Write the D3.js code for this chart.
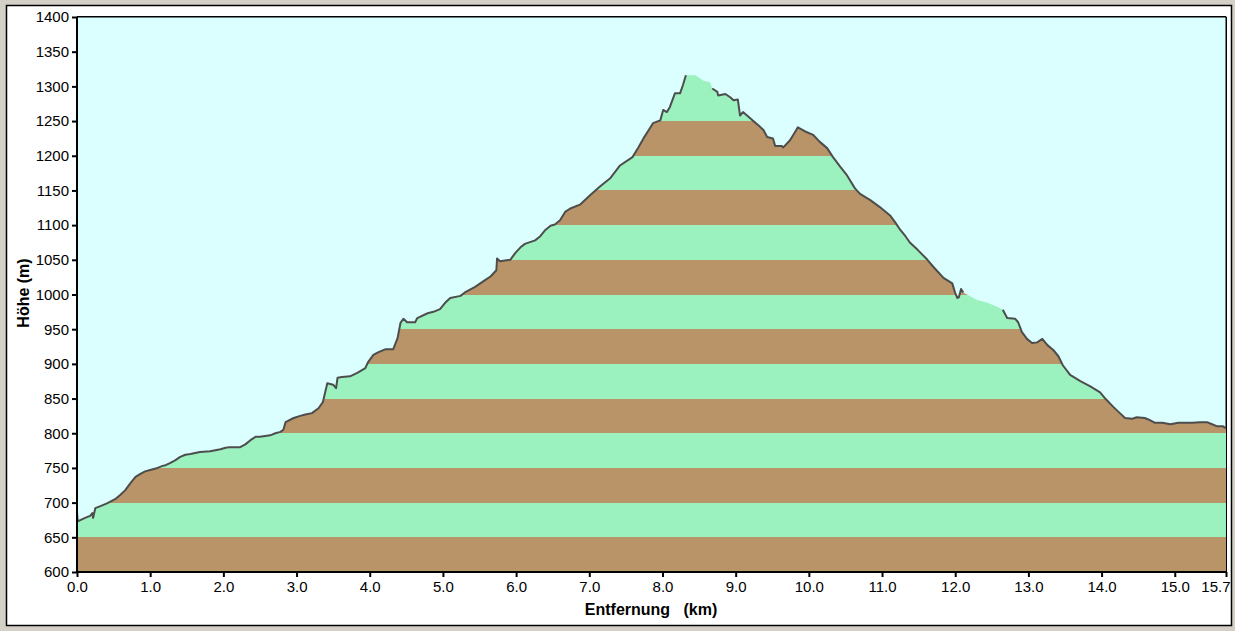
<!DOCTYPE html>
<html>
<head>
<meta charset="utf-8">
<script src="https://cdn.jsdelivr.net/npm/d3@7"></script>
<style>
  html, body { margin: 0; padding: 0; background: #d4d0c8; }
  svg { display: block; }
  text { font-family: "Liberation Sans", Arial, sans-serif; }
</style>
</head>
<body>
<svg id="chart" width="1235" height="631"></svg>
<script>
// ---- Data ----
const distanceKm = [
  0.00, 0.01, 0.11, 0.18, 0.21, 0.22, 0.25, 0.32, 0.41, 0.52, 0.59, 0.66, 0.73, 0.80, 0.86, 0.93,
  1.00, 1.10, 1.17, 1.21, 1.27, 1.34, 1.41, 1.48, 1.55, 1.68, 1.82, 1.96, 2.03, 2.09, 2.23, 2.30,
  2.37, 2.44, 2.50, 2.57, 2.64, 2.71, 2.78, 2.82, 2.85, 2.96, 3.05, 3.12, 3.21, 3.30, 3.36, 3.42,
  3.50, 3.54, 3.56, 3.62, 3.73, 3.83, 3.94, 3.98, 4.05, 4.12, 4.21, 4.32, 4.38, 4.42, 4.46, 4.51,
  4.62, 4.65, 4.79, 4.87, 4.96, 5.03, 5.10, 5.24, 5.30, 5.44, 5.58, 5.65, 5.73, 5.74, 5.78, 5.92,
  5.99, 6.06, 6.12, 6.26, 6.33, 6.40, 6.47, 6.53, 6.60, 6.67, 6.74, 6.88, 7.01, 7.15, 7.29, 7.42,
  7.59, 7.67, 7.74, 7.83, 7.87, 7.97, 8.01, 8.06, 8.10, 8.17, 8.24, 8.28, 8.32, 8.45, 8.56, 8.65,
  8.68, 8.75, 8.76, 8.86, 8.93, 8.97, 9.03, 9.06, 9.10, 9.23, 9.31, 9.38, 9.43, 9.51, 9.54, 9.63,
  9.65, 9.74, 9.81, 9.85, 9.95, 10.06, 10.15, 10.25, 10.33, 10.43, 10.52, 10.56, 10.63, 10.70, 10.84, 10.97,
  11.11, 11.18, 11.25, 11.32, 11.38, 11.49, 11.62, 11.70, 11.84, 11.96, 12.00, 12.03, 12.05, 12.08, 12.11, 12.18,
  12.30, 12.44, 12.58, 12.65, 12.71, 12.82, 12.86, 12.91, 12.98, 13.05, 13.12, 13.19, 13.26, 13.34, 13.41, 13.47,
  13.57, 13.71, 13.84, 13.98, 14.05, 14.16, 14.25, 14.32, 14.42, 14.48, 14.59, 14.66, 14.73, 14.83, 14.94, 15.05,
  15.24, 15.34, 15.44, 15.51, 15.58, 15.66, 15.70
];
const elevationM = [
  686, 673, 678, 681, 685, 678, 692, 695, 699, 705, 711, 718, 728, 737, 741, 745,
  747, 750, 753, 754, 757, 761, 766, 769, 770, 773, 774, 777, 779, 780, 780, 784,
  790, 795, 795, 796, 797, 800, 802, 805, 816, 822, 825, 827, 829, 836, 845, 872,
  870, 865, 880, 881, 882, 887, 894, 903, 913, 917, 921, 921, 937, 959, 965, 960,
  960, 966, 973, 975, 979, 988, 995, 998, 1003, 1011, 1021, 1026, 1035, 1052, 1048, 1050,
  1060, 1068, 1073, 1078, 1084, 1093, 1099, 1101, 1107, 1119, 1124, 1130, 1143, 1156, 1168, 1186,
  1198, 1212, 1225, 1240, 1247, 1251, 1266, 1263, 1270, 1290, 1290, 1302, 1316, 1316, 1308, 1306,
  1297, 1292, 1287, 1289, 1284, 1280, 1281, 1258, 1263, 1251, 1244, 1237, 1227, 1225, 1214, 1214,
  1212, 1222, 1234, 1241, 1235, 1230, 1220, 1211, 1198, 1184, 1172, 1165, 1153, 1145, 1136, 1126,
  1114, 1104, 1093, 1084, 1075, 1064, 1050, 1040, 1024, 1016, 1002, 995, 996, 1008, 1003, 999,
  992, 988, 982, 978, 966, 965, 960, 946, 936, 930, 931, 936, 927, 920, 911, 898,
  884, 875, 868, 859, 850, 838, 829, 822, 821, 823, 822, 819, 815, 815, 813, 815,
  815, 816, 816, 813, 810, 810, 807
];
// stretches where the profile outline is not drawn (km)
const lineGaps = [[8.33, 8.67], [12.12, 12.64]];
const xTicks = [0, 1, 2, 3, 4, 5, 6, 7, 8, 9, 10, 11, 12, 13, 14, 15, 15.7];
const yTicks = [600, 650, 700, 750, 800, 850, 900, 950, 1000, 1050, 1100, 1150, 1200, 1250, 1300, 1350, 1400];
// colour band boundaries (m); bands alternate brown / green from the bottom
const bandEdges = [600, 650, 700, 750, 800, 850, 900, 950, 1000, 1050, 1100, 1150, 1200, 1250, 1400];
const xTitle = "Entfernung\u00a0\u00a0\u00a0(km)";
const yTitle = "Höhe (m)";

// ---- Layout ----
const svg = d3.select("#chart");
const L = 77, R = 1226, T = 17, B = 572;
const x = d3.scaleLinear().domain([0, 15.7]).range([L, R]);
const y = d3.scaleLinear().domain([600, 1400]).range([B, T]);

const data = distanceKm.map((d, i) => ({ d, e: elevationM[i] }));

// panel
svg.append("rect").attr("x", 6.5).attr("y", 5.5).attr("width", 1225).attr("height", 620)
  .attr("fill", "#ffffff").attr("stroke", "#000").attr("stroke-width", 1.5);

// plot background
svg.append("rect").attr("x", L).attr("y", T).attr("width", R - L).attr("height", B - T)
  .attr("fill", "#dbffff").attr("stroke", "#000").attr("stroke-width", 1);

// clip path = area under profile
const area = d3.area().x(p => x(p.d)).y0(B).y1(p => y(p.e)).curve(d3.curveLinear);
svg.append("clipPath").attr("id", "profileClip").append("path").attr("d", area(data));

const bands = d3.pairs(bandEdges);
svg.append("g").attr("clip-path", "url(#profileClip)")
  .selectAll("rect").data(bands).join("rect")
  .attr("x", L).attr("width", R - L)
  .attr("y", b => y(b[1])).attr("height", b => y(b[0]) - y(b[1]))
  .attr("fill", (b, i) => i % 2 === 0 ? "#b89468" : "#9bf2bf")
  .attr("shape-rendering", "crispEdges");

// outline
const inGap = p => lineGaps.some(g => p.d > g[0] && p.d < g[1]);
const line = d3.line().x(p => x(p.d)).y(p => y(p.e)).defined(p => !inGap(p));
svg.append("path").attr("d", line(data)).attr("fill", "none")
  .attr("stroke", "#4d4d4d").attr("stroke-width", 2).attr("stroke-linejoin", "round");

// top & right border redraw
svg.append("line").attr("x1", L).attr("x2", R).attr("y1", T - 0.5).attr("y2", T - 0.5).attr("stroke", "#000");
svg.append("line").attr("x1", R + 0.5).attr("x2", R + 0.5).attr("y1", T).attr("y2", B).attr("stroke", "#000");

// axes
const yAxis = d3.axisLeft(y).tickValues(yTicks).tickFormat(d3.format("d")).tickSize(5).tickPadding(3);
const gy = svg.append("g").attr("transform", `translate(${L},0)`).call(yAxis);
const xAxis = d3.axisBottom(x).tickValues(xTicks).tickFormat(d3.format(".1f")).tickSize(5).tickPadding(4);
const gx = svg.append("g").attr("transform", `translate(0,${B})`).call(xAxis);

[gx, gy].forEach(g => {
  g.select(".domain").attr("stroke", "#000").attr("stroke-width", 2);
  g.selectAll(".tick line").attr("stroke", "#000").attr("stroke-width", 2);
  g.selectAll(".tick text").attr("fill", "#000").style("font-size", "15px")
    .style("font-family", '"Liberation Sans", Arial, sans-serif');
});
gy.select(".domain").attr("d", `M0,${B + 1}V${T}`);
gx.select(".domain").attr("d", `M${L - 1},0H${R + 1}`);
gx.selectAll(".tick text").filter(d => d === 15.7).attr("text-anchor", "end").attr("dx", 4);

// axis titles
svg.append("text").attr("x", 651).attr("y", 615).attr("text-anchor", "middle")
  .style("font-size", "16px").style("font-weight", "bold").text(xTitle);
svg.append("text").attr("transform", "translate(29,293) rotate(-90)").attr("text-anchor", "middle")
  .style("font-size", "16px").style("font-weight", "bold").text(yTitle);
</script>
</body>
</html>
